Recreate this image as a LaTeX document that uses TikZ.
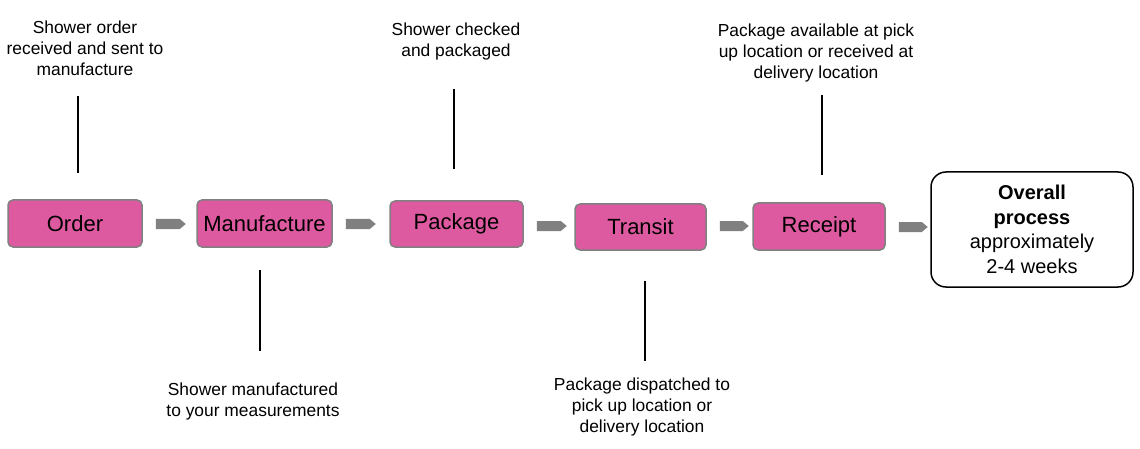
\documentclass[tikz,border=0pt]{standalone}
\usepackage{fontspec}
\setmainfont{Liberation Sans}
\definecolor{boxpink}{RGB}{222,90,160}
\definecolor{boxgray}{RGB}{128,128,128}
\definecolor{arrowgray}{RGB}{128,128,128}
\begin{document}
\begin{tikzpicture}[x=1pt,y=-1pt,
  stage/.style={draw=boxgray, line width=1.5pt, fill=boxpink, rounded corners=5pt,
    inner sep=0pt, font=\fontsize{22}{26}\selectfont},
  note/.style={align=center, inner sep=0pt, font=\fontsize{17.4}{21}\selectfont},
  tick/.style={line width=1.2pt, black},
  blockarrow/.style={fill=arrowgray, draw=none}
]
\useasboundingbox (0,0) rectangle (1140,449);

% stage boxes
\node[stage, minimum width=134pt, minimum height=47pt] (order) at (75,223.5) {Order};
\node[stage, minimum width=135pt, minimum height=47pt] (manu) at (264.5,223.5) {Manufacture};
\node[stage, minimum width=133pt, minimum height=46pt] (pack) at (456.5,224) {Package};
\node[stage, minimum width=131pt, minimum height=46pt] (trans) at (640.5,227) {Transit};
\node[stage, minimum width=132pt, minimum height=47pt] (rec) at (819,226.5) {Receipt};
\node[draw=black, line width=1.5pt, fill=white, rounded corners=15pt, inner sep=0pt,
      minimum width=202pt, minimum height=115pt, align=center,
      font=\fontsize{20}{24.5}\selectfont] (overall) at (1032,229.5)
      {\textbf{Overall}\\\textbf{process}\\approximately\\2-4 weeks};

% block arrows between stages (start 13pt right of the left box)
\foreach \a/\dy/\len in {order/0.5/24, manu/0.5/24, pack/2/24, trans/-1/23, rec/0.5/23}{
  \fill[blockarrow] (\a.east) ++(13pt,\dy-5) -- ++(\len,0) -- ++(6,5) -- ++(-6,5)
     -- ++(-\len,0) -- cycle;
}

% notes
\node[note] (n1) at (85,48) {Shower order\\received and sent to\\manufacture};
\node[note] (n2) at (456,42) {Shower checked\\and packaged};
\node[note] (n3) at (253,401.5) {Shower manufactured\\to your measurements};
\node[note] (n4) at (642,407) {Package dispatched to\\pick up location or\\delivery location};
\node[note] (n5) at (816,53) {Package available at pick\\up location or received at\\delivery location};

% ticks
\coordinate (t1a) at (78,96);  \coordinate (t1b) at (78,173);
\coordinate (t2a) at (454,89); \coordinate (t2b) at (454,169);
\coordinate (t3a) at (260,270); \coordinate (t3b) at (260,351);
\coordinate (t4a) at (645,281); \coordinate (t4b) at (645,361);
\coordinate (t5a) at (822,95); \coordinate (t5b) at (822,175);
\draw[tick] (t1a) -- (t1b);
\draw[tick] (t2a) -- (t2b);
\draw[tick] (t3a) -- (t3b);
\draw[tick] (t4a) -- (t4b);
\draw[tick] (t5a) -- (t5b);
\end{tikzpicture}
\end{document}
